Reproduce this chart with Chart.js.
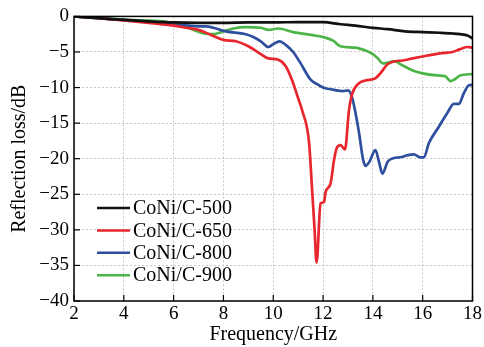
<!DOCTYPE html>
<html><head><meta charset="utf-8">
<script src="https://cdn.jsdelivr.net/npm/chart.js@4.4.0/dist/chart.umd.min.js"></script>
<style>html,body{margin:0;padding:0;background:#fff;}</style>
</head><body>
<canvas id="c" width="484" height="347" style="width:484px;height:347px;display:block"></canvas>
<script>
// ---- data ----
const xTickValues = [2, 4, 6, 8, 10, 12, 14, 16, 18];
const yTickValues = [0, -5, -10, -15, -20, -25, -30, -35, -40];
const seriesNames = ['CoNi/C-500', 'CoNi/C-650', 'CoNi/C-800', 'CoNi/C-900'];
const seriesColors = ['#111111', '#e8262d', '#2e4f9e', '#4db547'];

const freq500 = [2, 3, 4, 5, 6, 7, 8, 9, 10, 11, 12, 12.7, 13.3, 14, 14.6, 15.3, 16, 16.7, 17.2, 17.5, 17.8, 18];
const rl500   = [0, -0.25, -0.5, -0.7, -0.85, -0.9, -0.9, -0.85, -0.85, -0.8, -0.8, -1.1, -1.3, -1.6, -1.8, -2.1, -2.2, -2.3, -2.4, -2.5, -2.7, -3.1];

const freq650 = [2, 3, 4, 5, 6, 6.5, 7, 7.5, 8, 8.5, 9, 9.5, 9.8, 10.2, 10.5, 10.76, 11.0, 11.16, 11.44, 11.56, 11.66, 11.74, 11.9, 12.04, 12.1, 12.3, 12.44, 12.55, 12.7, 12.88, 13.04, 13.17, 13.44, 13.7, 14.1, 14.3, 14.6, 14.9, 15.2, 15.6, 16.2, 16.7, 17.2, 17.5, 17.8, 18];
const rl650   = [0, -0.25, -0.55, -0.9, -1.3, -1.6, -1.9, -2.6, -3.3, -3.5, -4.2, -5.3, -5.9, -6.1, -7.0, -9.0, -11.5, -13.2, -17.8, -24.4, -30, -34.6, -26.3, -26.1, -24.7, -23.5, -20.2, -18.5, -18.1, -18.7, -13.2, -10.9, -9.4, -9.0, -8.7, -8.0, -6.7, -6.3, -6.2, -5.9, -5.5, -5.2, -5.0, -4.6, -4.3, -4.4];

const freq800 = [2, 3, 4, 5, 6, 6.6, 7.0, 7.3, 7.6, 8.1, 8.9, 9.2, 9.5, 9.8, 10.0, 10.25, 10.5, 10.8, 11.1, 11.5, 11.8, 12.0, 12.4, 12.8, 13.0, 13.15, 13.3, 13.45, 13.6, 13.7, 13.85, 14.1, 14.25, 14.38, 14.6, 14.85, 15.1, 15.4, 15.65, 15.9, 16.05, 16.25, 16.65, 17.0, 17.25, 17.45, 17.65, 17.85, 18];
const rl800   = [0, -0.25, -0.5, -0.75, -1.0, -1.3, -1.4, -1.4, -1.6, -2.1, -2.5, -2.9, -3.5, -4.3, -3.9, -3.5, -4.0, -5.0, -6.6, -8.9, -9.6, -10.0, -10.3, -10.5, -10.4, -11.2, -13.5, -16.5, -20.0, -21.0, -20.5, -18.8, -20.5, -22.1, -20.4, -19.9, -19.8, -19.5, -19.4, -19.8, -19.8, -17.8, -15.5, -13.5, -12.3, -12.3, -10.8, -9.7, -9.6];

const freq900 = [2, 3, 4, 5, 5.6, 6.0, 6.4, 6.8, 7.2, 7.6, 8.0, 8.4, 8.9, 9.5, 9.8, 10.2, 10.8, 11.5, 12.0, 12.4, 12.7, 13.3, 13.7, 14.0, 14.2, 14.4, 14.6, 14.85, 15.2, 15.6, 16.0, 16.6, 16.9, 17.12, 17.3, 17.5, 18];
const rl900   = [0, -0.2, -0.45, -0.6, -0.7, -0.95, -1.3, -1.9, -2.4, -2.5, -2.1, -1.7, -1.5, -1.6, -1.9, -1.7, -2.2, -2.6, -2.9, -3.4, -4.2, -4.4, -4.8, -5.3, -5.9, -6.6, -6.5, -6.3, -6.9, -7.6, -8.0, -8.3, -8.4, -9.1, -8.8, -8.3, -8.1];

const xTitle = 'Frequency/GHz';
const yTitle = 'Reflection loss/dB';

// ---- build ----
const seriesFreq = [freq500, freq650, freq800, freq900];
const seriesRL = [rl500, rl650, rl800, rl900];
const FONT = '"Liberation Serif", "Times New Roman", serif';

const datasets = seriesNames.map((name, i) => ({
  label: name,
  data: seriesFreq[i].map((f, j) => ({ x: f, y: seriesRL[i][j] })),
  borderColor: seriesColors[i],
  backgroundColor: seriesColors[i],
  borderWidth: 2.7,
  pointRadius: 0,
  cubicInterpolationMode: 'monotone',
  fill: false
}));

const framePlugin = {
  id: 'frame',
  afterDatasetsDraw(chart) {
    const { ctx, chartArea: a, scales } = chart;
    ctx.save();
    ctx.strokeStyle = '#000';
    ctx.lineWidth = 1.5;
    ctx.strokeRect(a.left, a.top, a.right - a.left, a.bottom - a.top);
    ctx.lineWidth = 1.2;
    const tl = 6;
    xTickValues.forEach(v => {
      const px = scales.x.getPixelForValue(v);
      ctx.beginPath(); ctx.moveTo(px, a.bottom); ctx.lineTo(px, a.bottom - tl); ctx.stroke();
    });
    yTickValues.forEach(v => {
      const py = scales.y.getPixelForValue(v);
      ctx.beginPath(); ctx.moveTo(a.left, py); ctx.lineTo(a.left + tl, py); ctx.stroke();
    });
    // legend
    const lx0 = a.left + 23, lx1 = a.left + 56, ty0 = 208, dy = 22.4;
    ctx.font = '20px ' + FONT;
    ctx.textBaseline = 'middle';
    ctx.textAlign = 'left';
    seriesNames.forEach((name, i) => {
      const y = ty0 + i * dy;
      ctx.strokeStyle = seriesColors[i];
      ctx.lineWidth = 2.5;
      ctx.beginPath(); ctx.moveTo(lx0, y); ctx.lineTo(lx1, y); ctx.stroke();
      ctx.fillStyle = '#000';
      ctx.fillText(name, lx1 + 3, y + 1);
    });
    ctx.restore();
  }
};

new Chart(document.getElementById('c'), {
  type: 'line',
  data: { datasets },
  options: {
    responsive: false,
    animation: false,
    devicePixelRatio: 1,
    layout: { padding: { top: 16, right: 10, left: 0, bottom: 0 } },
    plugins: { legend: { display: false }, tooltip: { enabled: false } },
    scales: {
      x: {
        type: 'linear', min: 2, max: 18,
        afterBuildTicks: s => { s.ticks = xTickValues.map(v => ({ value: v })); },
        afterFit: s => { s.height = 46; },
        ticks: { font: { family: FONT, size: 19 }, color: '#000', padding: 2, maxRotation: 0 },
        grid: { color: '#c8c8c8', lineWidth: 1, drawTicks: false },
        border: { display: false, dash: [2, 2] },
        title: { display: true, text: xTitle, font: { family: FONT, size: 20 }, color: '#000', padding: { top: 0, bottom: 0 } }
      },
      y: {
        type: 'linear', min: -40, max: 0,
        afterBuildTicks: s => { s.ticks = yTickValues.map(v => ({ value: v })); },
        afterFit: s => { s.width = 74; },
        ticks: { font: { family: FONT, size: 19 }, color: '#000', padding: 5,
          callback: v => v < 0 ? '\u2212' + Math.abs(v) : String(v) },
        grid: { color: '#c8c8c8', lineWidth: 1, drawTicks: false },
        border: { display: false, dash: [2, 2] },
        title: { display: true, text: yTitle, font: { family: FONT, size: 20 }, color: '#000', padding: { top: 8, bottom: 0 } }
      }
    }
  },
  plugins: [framePlugin]
});
</script>
</body></html>
